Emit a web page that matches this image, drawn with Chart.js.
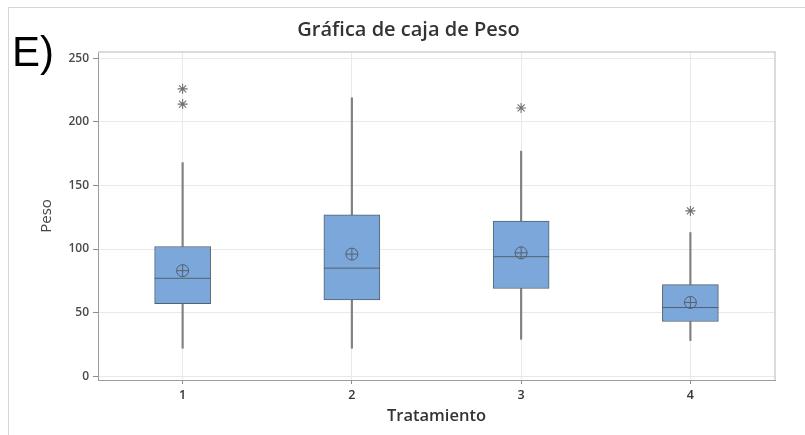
<!DOCTYPE html>
<html>
<head>
<meta charset="utf-8">
<script src="https://cdn.jsdelivr.net/npm/chart.js@4.4.1/dist/chart.umd.min.js"></script>
<style>
  html, body { margin: 0; padding: 0; background: #fff; }
  #wrap { position: relative; width: 805px; height: 435px; overflow: hidden; }
  #frame { position: absolute; left: 8px; top: 7px; right: 0; bottom: 0;
           border-left: 1px solid #d6d6d6; border-top: 1px solid #d6d6d6; }
  #tag { position: absolute; left: 12px; top: 31px; color: #000;
         font: 42px/1 "Liberation Sans", Arial, sans-serif; }
  canvas { position: absolute; left: 0; top: 0; }
</style>
</head>
<body>
<div id="wrap">
  <div id="frame"></div>
  <canvas id="c" width="805" height="435"></canvas>
  <div id="tag">E)</div>
</div>
<script>
// Tratamientos
const categories = ['1', '2', '3', '4'];

// Resumen de cinco números de Peso por tratamiento
const whiskerLow  = [22, 22, 29, 28];
const q1          = [57, 60, 69, 43];
const medians     = [77, 85, 94, 54];
const q3          = [102, 127, 122, 72];
const whiskerHigh = [168, 219, 177, 113];

// Medias por tratamiento
const means = [83, 96, 97, 58];

// Valores atípicos
const outlierGroups = ['1', '1', '3', '4'];
const outlierValues = [226, 214, 211, 130];

// Ticks del eje Peso
const yTickValues = [0, 50, 100, 150, 200, 250];

const boxFill = '#7ba7db';
const edgeColor = '#55606d';
const whiskerColor = '#808080';
const uiFont = '"Open Sans", "Noto Sans", sans-serif';

// Marco del área de trazado (lados superior y derecho)
const plotFrame = {
  id: 'plotFrame',
  beforeDatasetsDraw(chart) {
    const { ctx, chartArea: a } = chart;
    ctx.save();
    ctx.strokeStyle = '#cfcfcf';
    ctx.lineWidth = 1.5;
    ctx.beginPath();
    ctx.moveTo(a.left, a.top);
    ctx.lineTo(a.right, a.top);
    ctx.lineTo(a.right, a.bottom);
    ctx.stroke();
    ctx.restore();
  }
};

new Chart(document.getElementById('c'), {
  type: 'bar',
  data: {
    labels: categories,
    datasets: [
      {
        type: 'bar', label: 'Caja',
        data: categories.map((_, i) => [q1[i], q3[i]]),
        backgroundColor: boxFill, borderColor: edgeColor, borderWidth: 1,
        borderSkipped: false, barThickness: 56, grouped: false, order: 3
      },
      {
        type: 'bar', label: 'Bigote superior',
        data: categories.map((_, i) => [q3[i], whiskerHigh[i]]),
        backgroundColor: whiskerColor, borderWidth: 0,
        barThickness: 1.5, grouped: false, order: 4
      },
      {
        type: 'bar', label: 'Bigote inferior',
        data: categories.map((_, i) => [whiskerLow[i], q1[i]]),
        backgroundColor: whiskerColor, borderWidth: 0,
        barThickness: 1.5, grouped: false, order: 4
      },
      {
        type: 'line', label: 'Mediana', data: medians, showLine: false,
        pointStyle: 'line', pointRadius: 28, pointBorderColor: edgeColor,
        pointBorderWidth: 1, order: 2
      },
      {
        type: 'line', label: 'Media', data: means, showLine: false,
        pointStyle: 'circle', pointRadius: 6, pointBackgroundColor: 'rgba(0,0,0,0)',
        pointBorderColor: edgeColor, pointBorderWidth: 1, order: 1
      },
      {
        type: 'line', label: 'Media (cruz)', data: means, showLine: false,
        pointStyle: 'cross', pointRadius: 6, pointBorderColor: edgeColor,
        pointBorderWidth: 1, order: 1
      },
      {
        type: 'line', label: 'Atípicos',
        data: outlierGroups.map((g, i) => ({ x: g, y: outlierValues[i] })),
        showLine: false, pointStyle: 'star', pointRadius: 5,
        pointBorderColor: '#707070', pointBorderWidth: 1.1, order: 1
      }
    ]
  },
  options: {
    responsive: false,
    animation: false,
    devicePixelRatio: 1,
    layout: { padding: { left: 12, right: 0, top: 0, bottom: 0 } },
    plugins: {
      legend: { display: false },
      tooltip: { enabled: false },
      title: {
        display: true, text: 'Gráfica de caja de Peso', color: '#333',
        font: { family: uiFont, size: 20, weight: '600' },
        padding: { top: 18, bottom: 10 }
      }
    },
    scales: {
      x: {
        offset: true,
        afterFit(s) { s.height = 55; },
        ticks: { color: '#333', font: { family: uiFont, size: 12.5, weight: '600' }, padding: 4 },
        grid: { offset: false, color: '#e9e9e9', tickColor: '#8c8c8c', tickLength: 4 },
        border: { color: '#9c9c9c' },
        title: {
          display: true, text: 'Tratamiento', color: '#333',
          font: { family: uiFont, size: 16.5, weight: '600' },
          padding: { top: 0, bottom: 9 }
        }
      },
      y: {
        min: -3, max: 255,
        afterFit(s) { s.width = 86; },
        afterBuildTicks(s) { s.ticks = yTickValues.map(v => ({ value: v })); },
        ticks: { color: '#4a4a4a', font: { family: uiFont, size: 12, weight: '600' }, padding: 4 },
        grid: { color: '#e9e9e9', tickColor: '#8c8c8c', tickLength: 5 },
        border: { color: '#9c9c9c' },
        title: {
          display: true, text: 'Peso', color: '#444',
          font: { family: uiFont, size: 15 },
          padding: { top: 26, bottom: 0 }
        }
      },
      // margen derecho del área de trazado
      yRight: {
        position: 'right',
        afterFit(s) { s.width = 30; },
        ticks: { display: false },
        grid: { display: false, drawTicks: false },
        border: { display: false }
      }
    }
  },
  plugins: [plotFrame]
});
</script>
</body>
</html>
